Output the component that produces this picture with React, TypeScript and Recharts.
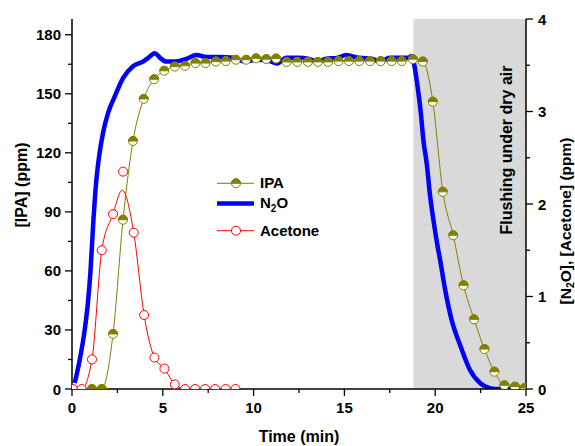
import React from 'react';
import { LineChart, Line, XAxis, YAxis, ReferenceArea, Legend } from 'recharts';

// IPA (left axis, ppm)
const ipaTime = [
  1.1, 1.64, 2.26, 2.81, 3.36, 3.95, 4.52, 5.08, 5.66, 6.23, 6.8, 7.35, 7.92, 8.47, 9.02,
  9.59, 10.14, 10.7, 11.24, 11.82, 12.4, 12.99, 13.54, 14.1, 14.68, 15.25, 15.82, 16.41,
  17.0, 17.6, 18.16, 18.77, 19.32, 19.87, 20.42, 20.99, 21.56, 22.14, 22.71, 23.26, 23.81,
  24.39, 24.92,
];
const ipaPpm = [
  0, 0, 28, 86, 126, 147.4, 157.4, 161.7, 163.8, 164.2, 165.6, 165.6, 166.4, 166.6, 167.3,
  167.3, 168, 167.6, 167.9, 166.2, 166.2, 166.2, 166.2, 166.2, 166.6, 166.6, 166.6, 166.6,
  166.6, 166.6, 166.6, 167.6, 166.4, 146, 100.2, 78.1, 52.7, 35.4, 20.3, 8.8, 1.9, 1.2, 0.5,
];

// N2O (right axis, ppm)
const n2oTime = [
  0.15, 0.42, 0.7, 0.89, 1.01, 1.16, 1.31, 1.49, 1.71, 1.98, 2.35, 2.81, 3.36, 3.91, 4.2,
  4.56, 4.85, 5.2, 5.75, 6.3, 6.85, 7.4, 8.1, 8.9, 9.5, 10.2, 10.8, 11.3, 11.8, 12.5, 13.0,
  13.55, 14.0, 14.6, 15.1, 15.8, 16.5, 16.95, 17.5, 18.0, 18.5, 18.7, 18.85, 19.0, 19.2,
  19.35, 19.55, 19.7, 19.9, 20.1, 20.3, 20.55, 20.9, 21.4, 21.9, 22.5, 23.0, 23.3, 25.0,
];
const n2oPpm = [
  0.065, 0.31, 0.64, 0.96, 1.25, 1.76, 2.19, 2.51, 2.77, 2.98, 3.16, 3.36, 3.49, 3.54, 3.58,
  3.63, 3.58, 3.54, 3.54, 3.57, 3.61, 3.59, 3.59, 3.58, 3.54, 3.56, 3.55, 3.52, 3.58, 3.58, 3.57,
  3.54, 3.57, 3.58, 3.61, 3.58, 3.57, 3.54, 3.58, 3.58, 3.58, 3.6, 3.5, 3.31, 3.0,
  2.69, 2.41, 2.12, 1.83, 1.58, 1.36, 1.07, 0.75, 0.46, 0.21, 0.06, 0.01, 0, 0,
];

// Acetone (right axis, ppm): measured points and smoothed curve
const acetoneTime = [0.05, 0.53, 1.1, 1.64, 2.26, 2.81, 3.4, 3.97, 4.54, 5.09, 5.66, 6.23, 6.78, 7.33, 7.88, 8.46, 9.0];
const acetonePpm = [0, 0, 0.32, 1.5, 1.89, 2.35, 1.69, 0.8, 0.34, 0.22, 0.05, 0, 0, 0, 0, 0, 0];
const acetoneFitTime = [0.05, 0.53, 1.1, 1.64, 2.26, 2.76, 3.4, 3.97, 4.54, 5.09, 5.66, 6.23, 9.0];
const acetoneFitPpm = [0, 0, 0.32, 1.5, 1.89, 2.15, 1.69, 0.8, 0.34, 0.22, 0.05, 0, 0];

const xTicks = [0, 2.5, 5, 7.5, 10, 12.5, 15, 17.5, 20, 22.5, 25];
const leftTicks = [0, 15, 30, 45, 60, 75, 90, 105, 120, 135, 150, 165, 180];
const rightTicks = [0, 0.5, 1, 1.5, 2, 2.5, 3, 3.5, 4];

const FONT = '"Liberation Sans", Arial, Helvetica, sans-serif';
const OLIVE = '#808000';
const BLUE = '#0000ff';
const RED = '#ff0000';

const zip = (t: number[], v: number[]) => t.map((x, i) => ({ t: x, v: v[i] }));
const ipaData = zip(ipaTime, ipaPpm);
const n2oData = zip(n2oTime, n2oPpm);
const acetoneData = zip(acetoneTime, acetonePpm);
const acetoneFitData = zip(acetoneFitTime, acetoneFitPpm);

function HalfDot({ cx, cy }: any) {
  if (cx == null || cy == null) return null;
  const r = 4.5;
  return (
    <g>
      <circle cx={cx} cy={cy} r={r} fill="#fff" stroke={OLIVE} strokeWidth={1} />
      <path d={`M${cx - r},${cy} A${r},${r} 0 0 1 ${cx + r},${cy} Z`} fill={OLIVE} stroke={OLIVE} strokeWidth={1} />
    </g>
  );
}

function OpenDot({ cx, cy }: any) {
  if (cx == null || cy == null) return null;
  return <circle cx={cx} cy={cy} r={4.5} fill="#fff" stroke={RED} strokeWidth={1} />;
}

const labelStyle = { fontFamily: FONT, fontWeight: 700, fontSize: 15, fill: '#000' };

function BottomTick({ x, y, payload }: any) {
  const major = payload.value % 5 === 0;
  return (
    <g>
      <line x1={x} x2={x} y1={y} y2={y + (major ? 7 : 4)} stroke="#000" strokeWidth={1.3} />
      {major && (
        <text x={x} y={y + 24} textAnchor="middle" style={labelStyle}>{payload.value}</text>
      )}
    </g>
  );
}

function LeftTick({ x, y, payload }: any) {
  const major = payload.value % 30 === 0;
  return (
    <g>
      <line x1={x} x2={x - (major ? 7 : 4)} y1={y} y2={y} stroke="#000" strokeWidth={1.3} />
      {major && (
        <text x={x - 11} y={y + 5.5} textAnchor="end" style={labelStyle}>{payload.value}</text>
      )}
    </g>
  );
}

function RightTick({ x, y, payload }: any) {
  const major = Number.isInteger(payload.value);
  return (
    <g>
      <line x1={x} x2={x + (major ? 7 : 4)} y1={y} y2={y} stroke="#000" strokeWidth={1.3} />
      {major && (
        <text x={x + 12} y={y + 5.5} textAnchor="start" style={labelStyle}>{payload.value}</text>
      )}
    </g>
  );
}

function LegendBox() {
  const text = { fontFamily: FONT, fontWeight: 700, fontSize: 15, fill: '#000' };
  return (
    <svg width={150} height={72} style={{ display: 'block', overflow: 'visible' }}>
      <line x1={7} x2={44} y1={13.3} y2={13.3} stroke={OLIVE} strokeWidth={1} />
      <HalfDot cx={26} cy={13.3} />
      <text x={50} y={18.3} style={text}>IPA</text>
      <line x1={7} x2={44} y1={33.5} y2={33.5} stroke={BLUE} strokeWidth={4.5} />
      <text x={50} y={38.3} style={text}>
        N<tspan fontSize={10} dy={4}>2</tspan><tspan dy={-4}>O</tspan>
      </text>
      <line x1={7} x2={44} y1={60.7} y2={60.7} stroke={RED} strokeWidth={1} />
      <OpenDot cx={26} cy={60.7} />
      <text x={50} y={66} style={text}>Acetone</text>
    </svg>
  );
}

export default function App() {
  const title = { fontFamily: FONT, fontWeight: 700, fontSize: 16, fill: '#000' };
  return (
    <div style={{ position: 'absolute', left: 0, top: 0, width: 575, height: 446, background: '#fff' }}>
      <LineChart width={575} height={446} margin={{ top: 19, right: 0, bottom: 0, left: 0 }}>
        <ReferenceArea x1={18.8} x2={25} yAxisId="left" fill="#d9d9d9" fillOpacity={1} stroke="none" />
        <XAxis
          dataKey="t"
          type="number"
          domain={[0, 25]}
          ticks={xTicks}
          interval={0}
          height={57}
          tickLine={false}
          tickSize={0}
          tickMargin={0}
          tick={<BottomTick />}
          axisLine={{ stroke: '#000', strokeWidth: 1.5 }}
          allowDataOverflow
        />
        <XAxis
          xAxisId="top"
          orientation="top"
          type="number"
          domain={[0, 25]}
          height={0}
          tick={false}
          tickLine={false}
          axisLine={{ stroke: '#000', strokeWidth: 1.5 }}
        />
        <YAxis
          yAxisId="left"
          orientation="left"
          width={72}
          domain={[0, 188]}
          ticks={leftTicks}
          interval={0}
          tickLine={false}
          tickSize={0}
          tickMargin={0}
          tick={<LeftTick />}
          axisLine={{ stroke: '#000', strokeWidth: 1.5 }}
          allowDataOverflow
        />
        <YAxis
          yAxisId="right"
          orientation="right"
          width={49}
          domain={[0, 4]}
          ticks={rightTicks}
          interval={0}
          tickLine={false}
          tickSize={0}
          tickMargin={0}
          tick={<RightTick />}
          axisLine={{ stroke: '#000', strokeWidth: 1.5 }}
          allowDataOverflow
        />
        <Line
          yAxisId="left"
          data={ipaData}
          dataKey="v"
          name="IPA"
          type="monotone"
          stroke={OLIVE}
          strokeWidth={1}
          dot={(p: any) => <HalfDot key={`ipa-${p.index}`} {...p} />}
          isAnimationActive={false}
        />
        <Line
          yAxisId="right"
          data={n2oData}
          dataKey="v"
          name="N2O"
          type="monotone"
          stroke={BLUE}
          strokeWidth={4.5}
          dot={false}
          isAnimationActive={false}
        />
        <Line
          yAxisId="right"
          data={acetoneFitData}
          dataKey="v"
          name="Acetone fit"
          type="monotone"
          stroke={RED}
          strokeWidth={1}
          dot={false}
          legendType="none"
          isAnimationActive={false}
        />
        <Line
          yAxisId="right"
          data={acetoneData}
          dataKey="v"
          name="Acetone"
          stroke="none"
          dot={(p: any) => <OpenDot key={`ace-${p.index}`} {...p} />}
          isAnimationActive={false}
        />
        <Legend
          layout="vertical"
          align="center"
          verticalAlign="middle"
          content={() => <LegendBox />}
          wrapperStyle={{ left: 210, top: 170, width: 150, height: 72 }}
        />
      </LineChart>
      <svg
        width={575}
        height={446}
        style={{ position: 'absolute', left: 0, top: 0, pointerEvents: 'none' }}
      >
        <text transform="translate(26.5,185) rotate(-90)" textAnchor="middle" style={title}>[IPA] (ppm)</text>
        <text x={299} y={442} textAnchor="middle" style={title}>Time (min)</text>
        <text transform="translate(512,150) rotate(-90)" textAnchor="middle" style={title}>Flushing under dry air</text>
        <text transform="translate(570.5,221) rotate(-90)" textAnchor="middle" style={{ ...title, fontSize: 15.5 }}>
          [N<tspan fontSize={10.5} dy={3.5}>2</tspan><tspan dy={-3.5}>O], [Acetone] (ppm)</tspan>
        </text>
      </svg>
    </div>
  );
}
